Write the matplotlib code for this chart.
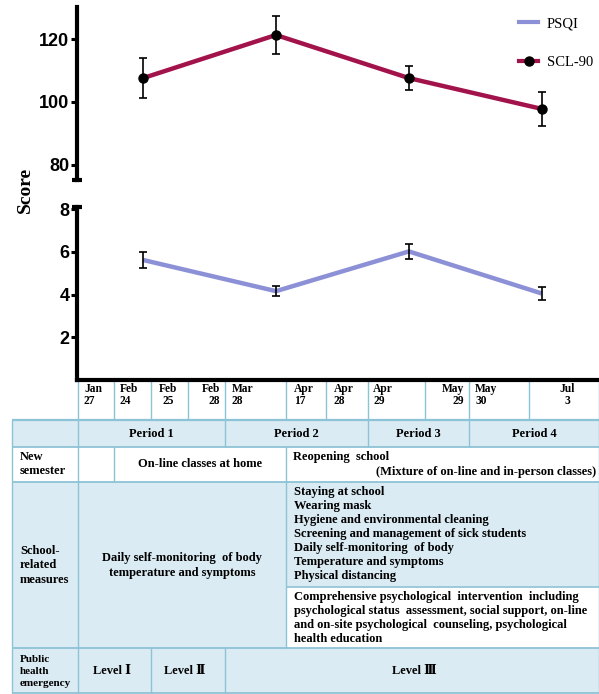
import matplotlib
matplotlib.use('Agg')
import matplotlib.pyplot as plt
from matplotlib.patches import Rectangle
from matplotlib.lines import Line2D

# ---------------- data ----------------
periods = ['Period 1', 'Period 2', 'Period 3', 'Period 4']
survey_x = [1, 2, 3, 4]
scl90_mean = [107.6, 121.3, 107.6, 97.8]
scl90_err = [6.3, 5.9, 3.7, 5.5]
psqi_mean = [5.62, 4.16, 6.02, 4.05]
psqi_err = [0.37, 0.25, 0.35, 0.30]
upper_ticks = [80, 100, 120]
lower_ticks = [2, 4, 6, 8]
date_labels = ['Jan\n27', 'Feb\n24', 'Feb\n25', 'Feb\n28', 'Mar\n28', 'Apr\n17',
               'Apr\n28', 'Apr\n29', 'May\n29', 'May\n30', 'Jul\n3']
measures_list = ['Staying at school', 'Wearing mask', 'Hygiene and environmental cleaning',
                 'Screening and management of sick students', 'Daily self-monitoring  of body',
                 'Temperature and symptoms', 'Physical distancing']
psy_text = ['Comprehensive psychological  intervention  including',
            'psychological status  assessment, social support, on-line',
            'and on-site psychological  counseling, psychological',
            'health education']
levels = ['Level Ⅰ', 'Level Ⅱ', 'Level Ⅲ']

# ---------------- layout ----------------
W, H = 599, 694
fig = plt.figure(figsize=(W / 100, H / 100), dpi=100)
fig.patch.set_facecolor('white')

def fr(x0, y0, x1, y1):
    return [x0 / W, 1 - y1 / H, (x1 - x0) / W, (y1 - y0) / H]

SCL_COL = '#A3134B'
PSQI_COL = '#8C90D6'
LINE_C = '#8DC3D6'
FILL_C = '#DAEBF3'
SERIF = ['Liberation Serif', 'DejaVu Serif']
SANS = ['Liberation Sans', 'DejaVu Sans']

# table axes (pixel coordinates)
tab = fig.add_axes([0, 0, 1, 1], zorder=0)
tab.set_xlim(0, W)
tab.set_ylim(H, 0)
tab.axis('off')

ax_u = fig.add_axes(fr(77, 7, 599, 180), zorder=2)
ax_l = fig.add_axes(fr(77, 207, 599, 380), zorder=2)
for ax in (ax_u, ax_l):
    ax.set_facecolor('none')
    ax.set_xlim(0.503, 4.43)
    ax.set_xticks([])
    for s in ('top', 'right'):
        ax.spines[s].set_visible(False)
    ax.spines['left'].set_linewidth(3)
    ax.spines['bottom'].set_linewidth(3)
    ax.tick_params(axis='y', length=4.5, width=2.2, pad=1, labelsize=13)
ax_u.spines['bottom'].set_visible(False)
ax_u.set_ylim(75.2, 130.2)
ax_u.set_yticks(upper_ticks)
ax_l.set_ylim(0, 8.1)
ax_l.set_yticks(lower_ticks)
for ax in (ax_u, ax_l):
    for lab in ax.get_yticklabels():
        lab.set_fontfamily(SANS)
        lab.set_fontweight('bold')

# axis break caps
ax_u.plot([0], [0], marker='_', ms=7, mew=3, color='black', transform=ax_u.transAxes, clip_on=False)
ax_l.plot([0], [1], marker='_', ms=7, mew=3, color='black', transform=ax_l.transAxes, clip_on=False)

# SCL-90
ax_u.plot(survey_x, scl90_mean, color=SCL_COL, lw=3.2, zorder=2, solid_capstyle='butt')
ax_u.errorbar(survey_x, scl90_mean, yerr=scl90_err, fmt='none', ecolor='black',
              elinewidth=1.2, capsize=3, capthick=1.2, zorder=3)
ax_u.plot(survey_x, scl90_mean, 'o', color='black', ms=6.5, zorder=4)

# PSQI
ax_l.plot(survey_x, psqi_mean, color=PSQI_COL, lw=3.2, zorder=2, solid_capstyle='butt')
ax_l.errorbar(survey_x, psqi_mean, yerr=psqi_err, fmt='none', ecolor='black',
              elinewidth=1.2, capsize=3, capthick=1.2, zorder=3)

handles = [Line2D([], [], color=PSQI_COL, lw=3),
           Line2D([], [], color=SCL_COL, lw=3, marker='o', mfc='black', mec='black', ms=6.5)]
leg = fig.legend(handles, ['PSQI', 'SCL-90'], loc='upper left',
                 bbox_to_anchor=(506 / W, 1 - 4 / H), frameon=False,
                 prop={'family': SERIF, 'size': 10.5}, handlelength=1.3,
                 handletextpad=0.6, labelspacing=1.75)

fig.text(25 / W, 1 - 190 / H, 'Score', rotation=90, ha='center', va='center',
         family=SERIF, fontweight='bold', fontsize=14)

# ---------------- table ----------------
L, R = 12, 599
date_edges = [78, 114, 151, 188, 225, 286, 326, 368, 425, 469, 529, 599]
period_edges = [78, 225, 368, 469, 599]
y_date0, y_date1 = 380, 420
y_per1 = 447
y_sem1 = 482
y_mid = 587
y_sch1 = 648
y_pub1 = 693

def rect(x0, y0, x1, y1, fc):
    tab.add_patch(Rectangle((x0, y0), x1 - x0, y1 - y0, facecolor=fc, edgecolor='none', zorder=1))

def hline(y, x0, x1, lw=1.2):
    tab.plot([x0, x1], [y, y], color=LINE_C, lw=lw, zorder=2, solid_capstyle='butt')

def vline(x, y0, y1, lw=1.0):
    tab.plot([x, x], [y0, y1], color=LINE_C, lw=lw, zorder=2, solid_capstyle='butt')

rect(L, y_date1, R, y_per1, FILL_C)
rect(L, y_sem1, R, y_mid, FILL_C)
rect(L, y_mid, 286, y_sch1, FILL_C)
rect(L, y_sch1, R, y_pub1, FILL_C)

for x in date_edges:
    vline(x, y_date0, y_date1)
hline(y_date1, L, R, lw=1.6)
for y in (y_per1, y_sem1, y_sch1, y_pub1):
    hline(y, L, R, lw=1.3)
hline(y_mid, 286, R)
vline(L, y_date1, y_pub1)
vline(R - 0.5, y_date1, y_pub1)
for x in period_edges[:-1]:
    vline(x, y_date1, y_per1)
for x in (78, 114, 286):
    vline(x, y_per1, y_sem1)
for x in (78, 286):
    vline(x, y_sem1, y_sch1)
for x in (78, 151, 225):
    vline(x, y_sch1, y_pub1)

tkw = dict(family=SERIF, fontweight='bold', zorder=3)

# date labels
date_pos = [(84, 'left'), (120, 'left'), (168, 'center'), (220, 'right'), (232, 'left'),
            (294, 'left'), (334, 'left'), (373, 'left'), (464, 'right'), (475, 'left'),
            (567, 'center')]
for lab, (x, ha) in zip(date_labels, date_pos):
    top, bot = lab.split('\n')
    tab.text(x, 389, top, ha=ha, va='center', fontsize=8.3, **tkw)
    tab.text(x, 401, bot, ha=ha, va='center', fontsize=8.3, **tkw)

# periods
for i, p in enumerate(periods):
    cx = (period_edges[i] + period_edges[i + 1]) / 2
    tab.text(cx, 434, p, ha='center', va='center', fontsize=9, **tkw)

# new semester row
tab.text(20, 457, 'New', ha='left', va='center', fontsize=9, **tkw)
tab.text(20, 471, 'semester', ha='left', va='center', fontsize=9, **tkw)
tab.text(200, 464, 'On-line classes at home', ha='center', va='center', fontsize=9, **tkw)
tab.text(293, 457, 'Reopening  school', ha='left', va='center', fontsize=9, **tkw)
tab.text(596, 472, '(Mixture of on-line and in-person classes)', ha='right', va='center',
         fontsize=9, **tkw)

# school-related row
for i, t in enumerate(['School-', 'related', 'measures']):
    tab.text(20, 551 + 14.5 * i, t, ha='left', va='center', fontsize=9, **tkw)
tab.text(182, 558, 'Daily self-monitoring  of body', ha='center', va='center', fontsize=9, **tkw)
tab.text(182, 573, 'temperature and symptoms', ha='center', va='center', fontsize=9, **tkw)
for i, t in enumerate(measures_list):
    tab.text(294, 492 + 14 * i, t, ha='left', va='center', fontsize=9, **tkw)
for i, t in enumerate(psy_text):
    tab.text(294, 597 + 13.9 * i, t, ha='left', va='center', fontsize=9, **tkw)

# public health row
for i, t in enumerate(['Public', 'health', 'emergency']):
    tab.text(20, 659 + 12.5 * i, t, ha='left', va='center', fontsize=8, **tkw)
level_pos = [112, 185, 414]
for t, x in zip(levels, level_pos):
    tab.text(x, 671, t, ha='center', va='center', fontsize=9, **tkw)

fig.savefig('out.png', dpi=100, facecolor='white')
